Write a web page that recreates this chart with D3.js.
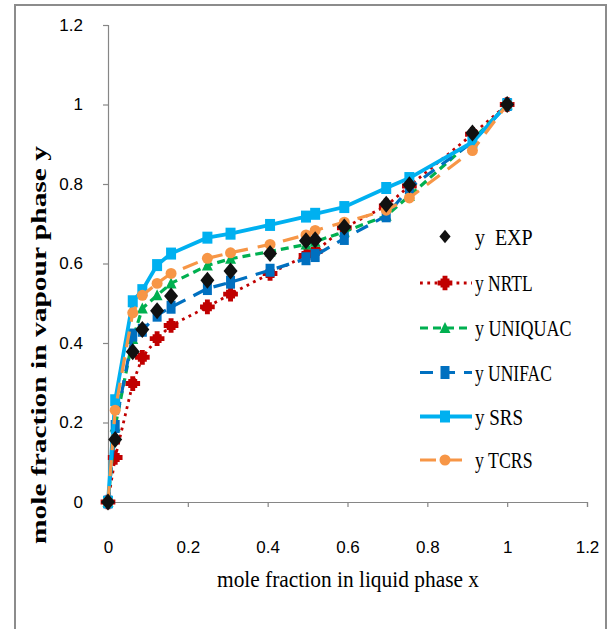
<!DOCTYPE html>
<html>
<head>
<meta charset="utf-8">
<script src="https://cdn.jsdelivr.net/npm/d3@7"></script>
<style>
  body { margin: 0; background: #fff; }
  svg { display: block; }
</style>
</head>
<body>
<div id="chart"></div>
<script>
// liquid mole fraction x (shared by all series)
const xLiquid = [0, 0.018, 0.062, 0.086, 0.123, 0.158, 0.249, 0.307, 0.406, 0.496, 0.519, 0.592, 0.697, 0.755, 0.913, 1.0];

const yExp     = [0, 0.157, 0.378, 0.434, 0.481, 0.518, 0.558, 0.581, 0.625, 0.657, 0.66, 0.692, 0.749, 0.798, 0.928, 1.0];
const yNrtl    = [0, 0.112, 0.298, 0.364, 0.411, 0.444, 0.491, 0.523, 0.575, 0.62, 0.63, 0.69, 0.745, 0.795, 0.925, 1.0];
const yUniquac = [0, 0.19, 0.41, 0.487, 0.52, 0.55, 0.595, 0.612, 0.63, 0.648, 0.655, 0.68, 0.72, 0.77, 0.91, 1.0];
const yUnifac  = [0, 0.19, 0.42, 0.432, 0.47, 0.49, 0.537, 0.553, 0.583, 0.612, 0.62, 0.663, 0.72, 0.79, 0.905, 1.0];
const ySrs     = [0, 0.256, 0.505, 0.533, 0.596, 0.625, 0.665, 0.675, 0.697, 0.718, 0.725, 0.742, 0.79, 0.815, 0.905, 1.0];
const yTcrs    = [0, 0.231, 0.476, 0.52, 0.55, 0.575, 0.613, 0.627, 0.648, 0.672, 0.683, 0.704, 0.734, 0.765, 0.884, 1.0];

const tickValues = [0, 0.2, 0.4, 0.6, 0.8, 1, 1.2];
const tickLabels = ['0', '0.2', '0.4', '0.6', '0.8', '1', '1.2'];

const seriesNames = ['y  EXP', 'y NRTL', 'y UNIQUAC', 'y UNIFAC', 'y SRS', 'y TCRS'];

const W = 612, H = 629;
const svg = d3.select('#chart').append('svg')
  .attr('width', W)
  .attr('height', H);

// outer frame
svg.append('rect')
  .attr('x', 15).attr('y', 5)
  .attr('width', 591).attr('height', 650)
  .attr('fill', 'none')
  .attr('stroke', '#8c8c8c')
  .attr('stroke-width', 2);

const xScale = d3.scaleLinear().domain([0, 1.2]).range([108, 587]);
const yScale = d3.scaleLinear().domain([0, 1.2]).range([502, 25]);

const tickFmt = (d) => tickLabels[tickValues.indexOf(d)];

const xAxis = svg.append('g')
  .attr('transform', `translate(0,${yScale(0)})`)
  .call(d3.axisBottom(xScale).tickValues(tickValues).tickFormat(tickFmt).tickSizeOuter(0).tickSize(5).tickPadding(34));

const yAxis = svg.append('g')
  .attr('transform', `translate(${xScale(0)},0)`)
  .call(d3.axisLeft(yScale).tickValues(tickValues).tickFormat(tickFmt).tickSizeOuter(0).tickSize(5).tickPadding(20));

[xAxis, yAxis].forEach(ax => {
  ax.select('.domain').attr('stroke', '#868686').attr('stroke-width', 1.2);
  ax.selectAll('.tick line').attr('stroke', '#868686').attr('stroke-width', 1.2);
  ax.selectAll('.tick text')
    .attr('fill', '#000')
    .style('font-family', '"Liberation Sans", Arial, sans-serif')
    .style('font-size', '17px');
});

// axis titles
svg.append('text')
  .attr('x', 348).attr('y', 587)
  .attr('text-anchor', 'middle')
  .attr('textLength', 262)
  .attr('lengthAdjust', 'spacingAndGlyphs')
  .style('font-family', '"Liberation Serif", "Times New Roman", serif')
  .style('font-size', '23px')
  .text('mole fraction in liquid phase x');

svg.append('text')
  .attr('transform', 'translate(46,345) rotate(-90)')
  .attr('text-anchor', 'middle')
  .attr('textLength', 398)
  .attr('lengthAdjust', 'spacingAndGlyphs')
  .style('font-family', '"Liberation Serif", "Times New Roman", serif')
  .style('font-size', '22px')
  .style('font-weight', 'bold')
  .text('mole fraction in vapour phase y');

// marker shapes (slightly taller than wide, like the source)
function markerPath(kind, s) {
  if (kind === 'diamond') return `M0,${-8.5*s}L${7*s},0L0,${8.5*s}L${-7*s},0Z`;
  if (kind === 'square') return `M${-5*s},${-6*s}H${5*s}V${6*s}H${-5*s}Z`;
  if (kind === 'rect') return `M${-4.5*s},${-6.5*s}H${4.5*s}V${6.5*s}H${-4.5*s}Z`;
  if (kind === 'triangle') return `M0,${-6*s}L${5.5*s},${5*s}H${-5.5*s}Z`;
  if (kind === 'circle') return d3.symbol(d3.symbolCircle, 95 * s * s)();
  if (kind === 'star') {
    // blob-like asterisk marker
    return d3.symbol(d3.symbolCross, 120 * s * s)() + ' ' + d3.symbol(d3.symbolSquare, 80 * s * s)();
  }
  return '';
}

const series = [
  { name: seriesNames[1], y: yNrtl,    color: '#c00000', dash: '2.8,4.5', width: 2.8, marker: 'star' },
  { name: seriesNames[2], y: yUniquac, color: '#00b050', dash: '8,5',     width: 3.2, marker: 'triangle' },
  { name: seriesNames[3], y: yUnifac,  color: '#0070c0', dash: '13,9',    width: 3.2, marker: 'rect' },
  { name: seriesNames[4], y: ySrs,     color: '#00b0f0', dash: null,      width: 3.8, marker: 'square' },
  { name: seriesNames[5], y: yTcrs,    color: '#f79646', dash: '16,10',   width: 3.2, marker: 'circle' }
];

const line = d3.line()
  .x(d => xScale(d.x))
  .y(d => yScale(d.y));

series.forEach(s => {
  const pts = xLiquid.map((x, i) => ({ x: x, y: s.y[i] }));
  svg.append('path')
    .datum(pts)
    .attr('d', line)
    .attr('fill', 'none')
    .attr('stroke', s.color)
    .attr('stroke-width', s.width)
    .attr('stroke-dasharray', s.dash);
  svg.append('g').selectAll('path')
    .data(pts)
    .join('path')
    .attr('transform', d => `translate(${xScale(d.x)},${yScale(d.y)})`)
    .attr('d', markerPath(s.marker, 1))
    .attr('fill', s.color);
});

// experimental points on top
svg.append('g').selectAll('path')
  .data(xLiquid.map((x, i) => ({ x: x, y: yExp[i] })))
  .join('path')
  .attr('transform', d => `translate(${xScale(d.x)},${yScale(d.y)})`)
  .attr('d', markerPath('diamond', 1))
  .attr('fill', '#111');

// legend
const legendRows = [236.5, 283, 328, 372.5, 416.5, 460];
const legend = svg.append('g');
const legendItems = [{ name: seriesNames[0], color: '#111', dash: null, width: 0, marker: 'diamond' }].concat(series);
legendItems.forEach((s, i) => {
  const g = legend.append('g').attr('transform', `translate(0,${legendRows[i]})`);
  if (s.width > 0) {
    g.append('line')
      .attr('x1', 420).attr('x2', 472)
      .attr('y1', 0).attr('y2', 0)
      .attr('stroke', s.color)
      .attr('stroke-width', s.width)
      .attr('stroke-dasharray', s.dash);
  }
  g.append('path')
    .attr('transform', 'translate(445,0)')
    .attr('d', markerPath(s.marker, i === 0 ? 0.8 : 1))
    .attr('fill', s.color);
  const label = s.name;
  g.append('text')
    .attr('x', 475).attr('y', 8)
    .attr('xml:space', 'preserve')
    .style('white-space', 'pre')
    .style('font-family', '"Liberation Serif", "Times New Roman", serif')
    .style('font-size', '23px')
    .attr('textLength', label.length * 9.6 + (label === 'y UNIQUAC' ? 10 : 0))
    .attr('lengthAdjust', 'spacingAndGlyphs')
    .text(label);
});
</script>
</body>
</html>
